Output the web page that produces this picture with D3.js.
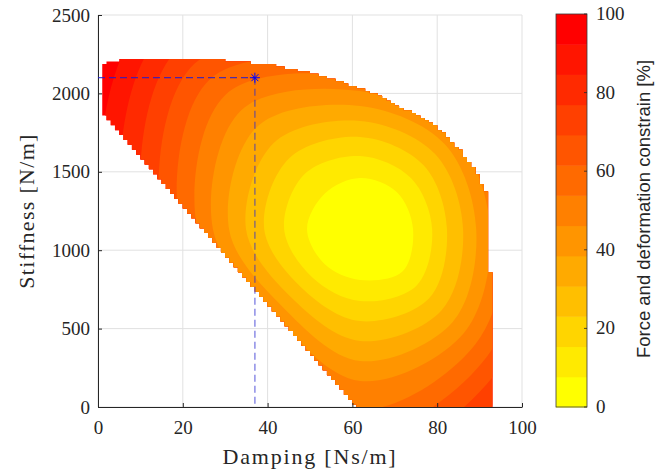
<!DOCTYPE html>
<html lang='en'>
<head>
<meta charset='utf8'>
<title>Constraint map</title>
<script src="https://cdn.jsdelivr.net/npm/d3@7"></script>
<style>
  body { margin: 0; background: #fff; }
  svg { display: block; }
</style>
</head>
<body>
<div id='chart'></div>
<script>
// axis ticks
var xTicks = [0, 20, 40, 60, 80, 100];
var yTicks = [0, 500, 1000, 1500, 2000, 2500];
var cbTicks = [0, 20, 40, 60, 80, 100];

// boundary of the feasible region [damping, stiffness]
var region = [
  [1, 1875], [1, 2190], [3, 2205], [6, 2215], [15, 2220], [27, 2218],
  [33.5, 2202], [41.3, 2181], [49.2, 2138], [57.1, 2075], [64.9, 2003],
  [72.8, 1894], [77.5, 1830], [80.7, 1767], [85.4, 1639], [88.4, 1533],
  [91.5, 1380], [92.0, 1300], [92.0, 861], [93.2, 861], [93.2, 0], [60.8, 0]
];

// contour lines, one per level (values below the level lie inside)
var contourLines = [
  [[74.3,1135],[70.5,1370],[61.8,1460],[53.5,1361],[49.3,1135],[53.5,910],[61.8,810],[71.8,864]],
  [[78.8,1135],[73.8,1460],[61.8,1601],[48.8,1487],[43.9,1135],[50.5,828],[61.8,676],[75.1,774]],
  [[82.3,1135],[76.8,1541],[61.8,1722],[45.1,1586],[39.2,1135],[48.0,761],[61.8,548],[78.1,693]],
  [[86.1,1135],[79.5,1613],[61.8,1824],[41.5,1685],[34.9,1135],[45.6,698],[61.8,421],[81.0,616]],
  [[89.2,1135],[81.8,1676],[61.8,1920],[37.6,1789],[30.9,1135],[43.5,639],[61.8,293],[83.7,544]],
  [[92.5,1135],[84.0,1735],[61.8,2015],[33.8,1893],[27.1,1135],[41.5,585],[61.8,166],[86.3,472]],
  [[96.0,1135],[86.3,1798],[61.8,2104],[30.1,1992],[23.4,1135],[39.3,526],[61.8,-13],[89.0,400]],
  [[99.5,1135],[88.7,1861],[61.8,2194],[26.4,2091],[19.4,1135],[37.1,468],[61.8,-172],[91.8,323]],
  [[103.1,1135],[91.0,1924],[61.8,2283],[22.8,2190],[15.3,1135],[34.8,404],[61.8,-332],[94.7,247]],
  [[106.6,1135],[93.5,1992],[61.8,2379],[19.1,2290],[11.1,1135],[32.4,341],[61.8,-491],[97.7,165]],
  [[110.1,1135],[96.0,2060],[61.8,2474],[15.4,2389],[6.4,1135],[30.1,278],[61.8,-651],[100.7,84]],
  [[113.7,1135],[98.5,2127],[61.8,2570],[11.8,2488],[1.7,1135],[27.6,210],[61.8,-810],[103.7,3]]
];

// selected design point [damping, stiffness]
var design = [37, 2100];

// sampling grid of the original map
var cellD = 1, cellS = 15.625;

var nBands = 13;
var bandColor = function(i) {
  return d3.rgb(255, Math.round(255 * (1 - i / (nBands - 1))), 0).toString();
};

var width = 671, height = 472;
var svg = d3.select('#chart').append('svg')
  .attr('width', width)
  .attr('height', height);

var x = d3.scaleLinear().domain([0, 100]).range([98, 522]);
var y = d3.scaleLinear().domain([0, 2500]).range([407, 15]);

var serif = '"Liberation Serif", "Times New Roman", serif';

// grid
var grid = svg.append('g').attr('class', 'grid');
grid.selectAll('.gx').data(xTicks).enter().append('line')
  .attr('x1', d => x(d)).attr('x2', d => x(d))
  .attr('y1', y(0)).attr('y2', y(2500))
  .attr('stroke', '#e1e1e1').attr('stroke-width', 1);
grid.selectAll('.gy').data(yTicks).enter().append('line')
  .attr('x1', x(0)).attr('x2', x(100))
  .attr('y1', d => y(d)).attr('y2', d => y(d))
  .attr('stroke', '#e1e1e1').attr('stroke-width', 1);

// feasible cells, column by column, give the stepped outline
var columns = [];
d3.range(0, 100, cellD).forEach(function(c) {
  var mid = c + cellD / 2;
  var cells = d3.range(0, 2500, cellS).filter(s => d3.polygonContains(region, [mid, s + cellS / 2]));
  if (cells.length) columns.push({d0: c, d1: c + cellD, s0: d3.min(cells), s1: d3.max(cells) + cellS});
});

var outline = d3.path();
columns.forEach(function(c, i) {
  if (i === 0) outline.moveTo(x(c.d0), y(c.s1));
  else outline.lineTo(x(c.d0), y(c.s1));
  outline.lineTo(x(c.d1), y(c.s1));
});
columns.slice().reverse().forEach(function(c) {
  outline.lineTo(x(c.d1), y(c.s0));
  outline.lineTo(x(c.d0), y(c.s0));
});
outline.closePath();

svg.append('clipPath').attr('id', 'region-clip')
  .append('path').attr('d', outline.toString());

var fills = svg.append('g').attr('clip-path', 'url(#region-clip)');
fills.append('rect')
  .attr('x', x(0)).attr('y', y(2500))
  .attr('width', x(100) - x(0)).attr('height', y(0) - y(2500))
  .attr('fill', bandColor(nBands - 1));

var contourLine = d3.line()
  .x(d => x(d[0])).y(d => y(d[1]))
  .curve(d3.curveCatmullRomClosed.alpha(0.5));

for (var k = contourLines.length - 1; k >= 0; k--) {
  fills.append('path')
    .attr('d', contourLine(contourLines[k]))
    .attr('fill', bandColor(k));
}

// axes
var xAxis = svg.append('g')
  .attr('transform', 'translate(0,' + y(0) + ')')
  .call(d3.axisBottom(x).tickValues(xTicks).tickFormat(d3.format('d'))
    .tickSizeInner(-4).tickSizeOuter(0).tickPadding(13.5));
var yAxis = svg.append('g')
  .attr('transform', 'translate(' + x(0) + ',0)')
  .call(d3.axisLeft(y).tickValues(yTicks).tickFormat(d3.format('d'))
    .tickSizeInner(-4).tickSizeOuter(0).tickPadding(8));

[xAxis, yAxis].forEach(function(a) {
  a.attr('font-family', serif).attr('font-size', 19);
  a.selectAll('path, line').attr('stroke', '#262626');
  a.selectAll('text').attr('fill', '#262626');
});

svg.append('text')
  .attr('x', (x(0) + x(100)) / 2).attr('y', 464)
  .attr('text-anchor', 'middle')
  .attr('font-family', serif).attr('font-size', 22)
  .attr('letter-spacing', 1.8)
  .attr('fill', '#262626')
  .text('Damping [Ns/m]');

svg.append('text')
  .attr('transform', 'translate(34,' + (y(0) + y(2500)) / 2 + ') rotate(-90)')
  .attr('text-anchor', 'middle')
  .attr('font-family', serif).attr('font-size', 22)
  .attr('letter-spacing', 1.3)
  .attr('fill', '#262626')
  .text('Stiffness [N/m]');

// design point guides
svg.append('line')
  .attr('x1', x(0)).attr('x2', x(design[0]))
  .attr('y1', y(design[1])).attr('y2', y(design[1]))
  .attr('stroke', '#1c1cd6').attr('stroke-width', 1)
  .attr('stroke-dasharray', '7,4');
svg.append('line')
  .attr('x1', x(design[0])).attr('x2', x(design[0]))
  .attr('y1', y(design[1])).attr('y2', y(0))
  .attr('stroke', '#2a2ad0').attr('stroke-opacity', 0.5).attr('stroke-width', 1.6)
  .attr('stroke-dasharray', '7,4');

var star = svg.append('g')
  .attr('transform', 'translate(' + x(design[0]) + ',' + y(design[1]) + ')')
  .attr('stroke', '#0000ff').attr('stroke-width', 1);
[[-5, 0, 5, 0], [0, -5, 0, 5], [-3.5, -3.5, 3.5, 3.5], [-3.5, 3.5, 3.5, -3.5]].forEach(function(s) {
  star.append('line').attr('x1', s[0]).attr('y1', s[1]).attr('x2', s[2]).attr('y2', s[3]);
});

// colorbar
var cb = svg.append('g');
var cy = d3.scaleLinear().domain([0, 100]).range([407, 14]);
var cbX = 556, cbW = 31;
cb.selectAll('rect.band').data(d3.range(nBands)).enter().append('rect')
  .attr('x', cbX)
  .attr('width', cbW)
  .attr('y', i => cy((i + 1) * 100 / nBands))
  .attr('height', i => cy(i * 100 / nBands) - cy((i + 1) * 100 / nBands) + 0.5)
  .attr('fill', i => bandColor(i));
cb.append('rect')
  .attr('x', cbX).attr('y', cy(100))
  .attr('width', cbW).attr('height', cy(0) - cy(100))
  .attr('fill', 'none').attr('stroke', '#3a3a3a').attr('stroke-width', 0.8);
cb.selectAll('line.tick').data(cbTicks).enter().append('line')
  .attr('x1', cbX + cbW - 3).attr('x2', cbX + cbW)
  .attr('y1', d => cy(d)).attr('y2', d => cy(d))
  .attr('stroke', '#262626').attr('stroke-width', 0.8);
cb.selectAll('text.tick').data(cbTicks).enter().append('text')
  .attr('x', 596).attr('y', d => cy(d)).attr('dy', '0.32em')
  .attr('font-family', serif).attr('font-size', 19)
  .attr('fill', '#262626')
  .text(d => d);

svg.append('text')
  .attr('transform', 'translate(650,209) rotate(-90)')
  .attr('text-anchor', 'middle')
  .attr('font-family', '"Liberation Sans", Arial, sans-serif').attr('font-size', 18.5)
  .attr('fill', '#262626')
  .text('Force and deformation constrain [%]');
</script>
</body>
</html>
